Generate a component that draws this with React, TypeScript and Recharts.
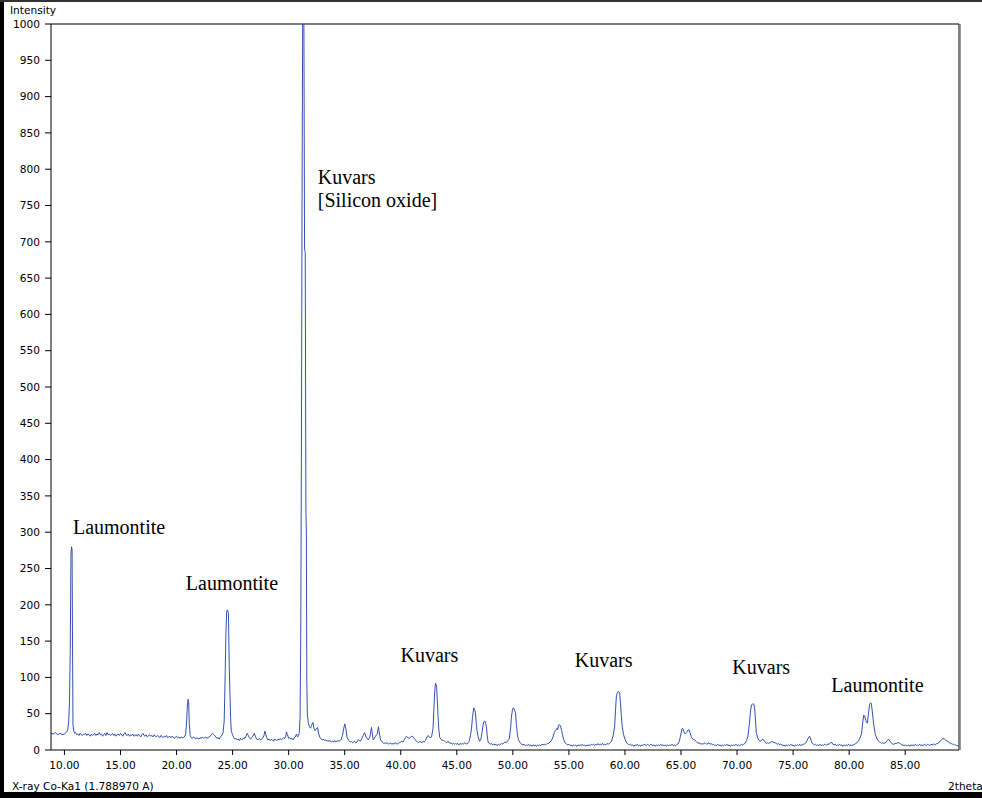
import { LineChart, Line, XAxis, YAxis, ReferenceLine, ReferenceDot } from 'recharts';

// 2theta / intensity pairs
const lowAngle = [
  [8.8, 23], [9.0, 22], [9.2, 24], [9.4, 21], [9.6, 23], [9.8, 21], [10.0, 22], [10.1, 24], [10.2, 25],
  [10.3, 28], [10.38, 40], [10.45, 65], [10.52, 140], [10.58, 270], [10.63, 280], [10.68, 276], [10.72, 150],
  [10.76, 35], [10.82, 27], [10.9, 23],
  [11.0, 24], [11.1, 21], [11.2, 22], [11.3, 20], [11.4, 23], [11.5, 21], [11.6, 20], [11.7, 22], [11.8, 21],
  [11.9, 23], [12.0, 20], [12.1, 22], [12.2, 21], [12.3, 19], [12.4, 22], [12.5, 20], [12.6, 21], [12.7, 23],
  [12.8, 20], [12.9, 22], [13.0, 21], [13.1, 24], [13.2, 21], [13.3, 22], [13.4, 19], [13.5, 21], [13.6, 23],
  [13.7, 20], [13.8, 24], [13.9, 21], [14.0, 22], [14.1, 20], [14.2, 21], [14.3, 23], [14.4, 20], [14.5, 22],
  [14.6, 19], [14.7, 21], [14.8, 22], [14.9, 20], [15.0, 23], [15.1, 21], [15.2, 19], [15.3, 22], [15.4, 24],
  [15.5, 21], [15.6, 20], [15.7, 22], [15.8, 19], [15.9, 21], [16.0, 20], [16.1, 22], [16.2, 19], [16.3, 20],
  [16.4, 21], [16.5, 19], [16.6, 22], [16.7, 20], [16.8, 18], [16.9, 21], [17.0, 23], [17.1, 20], [17.2, 19],
  [17.3, 21], [17.4, 18], [17.5, 20], [17.6, 21], [17.7, 19], [17.8, 20], [17.9, 18], [18.0, 21], [18.1, 19],
  [18.2, 18], [18.3, 20], [18.4, 19], [18.5, 17], [18.6, 20], [18.7, 19], [18.8, 17], [18.9, 19], [19.0, 18],
  [19.1, 20], [19.2, 17], [19.3, 18], [19.4, 19], [19.5, 17], [19.6, 19], [19.7, 18], [19.8, 16], [19.9, 18],
  [20.0, 19], [20.1, 17], [20.2, 18], [20.3, 16], [20.4, 18], [20.5, 17], [20.6, 17],
];

const laumontitePeaks = [
  [20.7, 18], [20.82, 22], [20.9, 40], [20.97, 62], [21.03, 70], [21.08, 65], [21.14, 35], [21.22, 20],
  [21.3, 17], [21.4, 16], [21.5, 18], [21.6, 17], [21.7, 15], [21.8, 17], [21.9, 16], [22.0, 15], [22.1, 17],
  [22.2, 16], [22.3, 18], [22.4, 16], [22.5, 17], [22.6, 18], [22.7, 16], [22.8, 17], [22.9, 18], [23.0, 19],
  [23.1, 21], [23.2, 23], [23.35, 21], [23.5, 18], [23.6, 16], [23.7, 17], [23.8, 15], [23.9, 18],
  [24.05, 20], [24.15, 24], [24.25, 40], [24.32, 90], [24.4, 158], [24.47, 191], [24.55, 193], [24.63, 188],
  [24.7, 115], [24.76, 80], [24.82, 45], [24.88, 26], [25.0, 21], [25.1, 17], [25.2, 15], [25.3, 16],
  [25.4, 14], [25.5, 15], [25.6, 13], [25.7, 16], [25.8, 14], [25.9, 15], [26.0, 17], [26.1, 16], [26.2, 19],
  [26.3, 23], [26.4, 20], [26.5, 17], [26.6, 15], [26.7, 17], [26.8, 19], [26.93, 23], [27.05, 18], [27.15, 15],
  [27.3, 14], [27.4, 16], [27.5, 14], [27.6, 15], [27.7, 17], [27.8, 20], [27.88, 26], [27.95, 22], [28.05, 17],
  [28.15, 14], [28.25, 15], [28.35, 13], [28.45, 15], [28.55, 14], [28.65, 12], [28.75, 15], [28.85, 14],
  [28.95, 13], [29.05, 15], [29.15, 14], [29.25, 16], [29.35, 14], [29.45, 15], [29.55, 17], [29.65, 16],
  [29.75, 19], [29.8, 25], [29.9, 21], [30.0, 16], [30.1, 17], [30.2, 15], [30.3, 16], [30.4, 14], [30.5, 17],
  [30.6, 18], [30.7, 22], [30.8, 18], [30.88, 20], [30.95, 24],
];

const quartzMain = [
  [31.02, 45], [31.08, 160], [31.14, 420], [31.2, 780], [31.25, 1000], [31.3, 1000], [31.36, 1000],
  [31.42, 690], [31.48, 685], [31.54, 330], [31.58, 300], [31.62, 95], [31.67, 48], [31.75, 38], [31.85, 32],
  [31.95, 30], [32.05, 34], [32.16, 38], [32.25, 30], [32.35, 27], [32.45, 29], [32.58, 31], [32.68, 22],
  [32.8, 17], [32.9, 15], [33.0, 14], [33.1, 15], [33.2, 13], [33.3, 14], [33.4, 12],
];

const midAngle = [
  [33.5, 13], [33.6, 12], [33.7, 13], [33.8, 11], [33.9, 12], [34.0, 11], [34.1, 13], [34.2, 11], [34.3, 12],
  [34.4, 13], [34.5, 12], [34.6, 13], [34.7, 15], [34.8, 20], [34.92, 30], [35.01, 36],
  [35.1, 30], [35.2, 18], [35.35, 13], [35.5, 11], [35.6, 12], [35.7, 10], [35.8, 11], [35.9, 12], [36.0, 10],
  [36.1, 11], [36.2, 14], [36.3, 13], [36.4, 12], [36.5, 15],
  [36.65, 20], [36.77, 24], [36.9, 18], [37.1, 14], [37.25, 18], [37.39, 31], [37.47, 22], [37.54, 14],
  [37.65, 16], [37.75, 19], [37.9, 22], [38.01, 32], [38.1, 22], [38.2, 14], [38.35, 11], [38.5, 9], [38.6, 10],
  [38.7, 9], [38.8, 10], [38.9, 8], [39.0, 9], [39.1, 10], [39.2, 8], [39.3, 9], [39.4, 8], [39.5, 10], [39.6, 9],
  [39.7, 8], [39.8, 10], [39.9, 10], [40.0, 11], [40.1, 12], [40.2, 11], [40.3, 14], [40.42, 17], [40.51, 19],
  [40.62, 17], [40.75, 16], [40.9, 18], [41.05, 19], [41.2, 16], [41.3, 14], [41.4, 12], [41.5, 11], [41.6, 10],
  [41.7, 12], [41.8, 11], [41.9, 10], [42.0, 12], [42.1, 11],
  [42.2, 13], [42.35, 18], [42.45, 20], [42.6, 17], [42.75, 18], [42.88, 30], [42.95, 55], [43.03, 80],
  [43.1, 92], [43.2, 88], [43.27, 65], [43.33, 46], [43.4, 28], [43.48, 17], [43.6, 15], [43.7, 13], [43.78, 14],
  [43.9, 12], [44.0, 11], [44.1, 10], [44.2, 12], [44.3, 11], [44.4, 9], [44.5, 10], [44.6, 8], [44.7, 9],
  [44.8, 8], [44.9, 9], [45.0, 8], [45.1, 9], [45.2, 7], [45.3, 9], [45.4, 8], [45.5, 9], [45.6, 8], [45.7, 10],
  [45.8, 9], [45.9, 8], [46.0, 10],
  [46.1, 12], [46.22, 20], [46.31, 29], [46.4, 45], [46.51, 58], [46.58, 56], [46.66, 52], [46.73, 38],
  [46.8, 27], [46.9, 18], [47.04, 12], [47.15, 15], [47.25, 24], [47.34, 34], [47.42, 39], [47.5, 40],
  [47.57, 37], [47.64, 32], [47.7, 22], [47.79, 11], [47.9, 9], [48.0, 8], [48.1, 9], [48.2, 7], [48.3, 8],
  [48.4, 7], [48.5, 8], [48.6, 6], [48.7, 8], [48.8, 7], [48.9, 8], [49.0, 9], [49.1, 8], [49.2, 10], [49.3, 11],
  [49.4, 10], [49.5, 12], [49.6, 13], [49.69, 16], [49.8, 30], [49.87, 45], [49.95, 54], [50.03, 58],
  [50.1, 57], [50.17, 54], [50.23, 52], [50.32, 35], [50.41, 21], [50.5, 14], [50.62, 11], [50.7, 9], [50.8, 8],
  [50.9, 7], [51.0, 8], [51.1, 6], [51.2, 7], [51.3, 6], [51.4, 8], [51.5, 6], [51.6, 7], [51.7, 5], [51.8, 7],
  [51.9, 6], [52.0, 7], [52.1, 5], [52.2, 7], [52.3, 6], [52.4, 7], [52.5, 6], [52.6, 8], [52.7, 7], [52.8, 8],
  [52.9, 7], [53.0, 8], [53.1, 9], [53.2, 9], [53.3, 11], [53.4, 12], [53.5, 15], [53.58, 18], [53.7, 24],
  [53.8, 27], [53.88, 28], [53.95, 30], [54.0, 28], [54.07, 34], [54.15, 35], [54.25, 33], [54.35, 27],
  [54.43, 21], [54.52, 15], [54.63, 11], [54.7, 9], [54.8, 8], [54.9, 7], [55.0, 8], [55.1, 6], [55.2, 7],
  [55.3, 5], [55.4, 7], [55.5, 6], [55.6, 7], [55.7, 5], [55.8, 7], [55.9, 6], [56.0, 7], [56.1, 6], [56.2, 8],
  [56.3, 6], [56.4, 7], [56.5, 5], [56.6, 7], [56.7, 6], [56.8, 7], [56.9, 6], [57.0, 8], [57.1, 7], [57.2, 8],
  [57.3, 6], [57.4, 8], [57.5, 7], [57.6, 9], [57.7, 7], [57.8, 8], [57.9, 7], [58.0, 9], [58.1, 7], [58.2, 8],
  [58.3, 7], [58.4, 9], [58.5, 8], [58.6, 9], [58.7, 10], [58.8, 12], [58.95, 20],
  [59.08, 32], [59.16, 55], [59.23, 73], [59.32, 79], [59.41, 81], [59.47, 80], [59.53, 78], [59.6, 65],
  [59.68, 47], [59.76, 32], [59.88, 21], [60.0, 15], [60.12, 11], [60.2, 9], [60.3, 8], [60.4, 7],
];

const highAngle = [
  [60.5, 8], [60.6, 6], [60.7, 7], [60.8, 5], [60.9, 7], [61.0, 6], [61.1, 8], [61.2, 6], [61.3, 7], [61.4, 5],
  [61.5, 7], [61.6, 6], [61.7, 8], [61.8, 7], [61.9, 6], [62.0, 8], [62.1, 7], [62.2, 6], [62.3, 8], [62.4, 7],
  [62.5, 6], [62.6, 7], [62.7, 5], [62.8, 7], [62.9, 6], [63.0, 7], [63.1, 6], [63.2, 8], [63.3, 6], [63.4, 7],
  [63.5, 6], [63.6, 7], [63.7, 5], [63.8, 7], [63.9, 6], [64.0, 7], [64.1, 6], [64.2, 8], [64.3, 6], [64.4, 7],
  [64.5, 6], [64.6, 7], [64.7, 8], [64.85, 12], [64.95, 19], [65.05, 26], [65.12, 30], [65.2, 28], [65.3, 24],
  [65.37, 22], [65.5, 24], [65.6, 27], [65.71, 28], [65.8, 24], [65.92, 18], [66.05, 15], [66.22, 14],
  [66.35, 12], [66.52, 9], [66.6, 10], [66.7, 9], [66.8, 8], [66.9, 9], [67.0, 8], [67.1, 10], [67.2, 9],
  [67.3, 8], [67.4, 9], [67.5, 10], [67.6, 8], [67.7, 9], [67.8, 7], [67.9, 8], [68.0, 6], [68.1, 7], [68.2, 6],
  [68.3, 8], [68.4, 6], [68.5, 7], [68.6, 5], [68.7, 7], [68.8, 6], [68.9, 7], [69.0, 6], [69.1, 8], [69.2, 6],
  [69.3, 7], [69.4, 5], [69.5, 7], [69.6, 6], [69.7, 7], [69.8, 6], [69.9, 8], [70.0, 6], [70.1, 7], [70.2, 6],
  [70.3, 7], [70.4, 8], [70.5, 7], [70.6, 8], [70.7, 9], [70.85, 13], [70.97, 19], [71.1, 36], [71.21, 55],
  [71.3, 62], [71.42, 64], [71.5, 63], [71.57, 58], [71.65, 40], [71.72, 24], [71.83, 17], [71.96, 13],
  [72.1, 12], [72.2, 14], [72.31, 15], [72.45, 12], [72.6, 9], [72.7, 10], [72.8, 9], [72.9, 10], [73.0, 10],
  [73.1, 12], [73.2, 11], [73.3, 10], [73.4, 10], [73.5, 9], [73.6, 8], [73.7, 9], [73.8, 7], [73.9, 8],
  [74.0, 7], [74.1, 6], [74.2, 7], [74.3, 5], [74.4, 7], [74.5, 6], [74.6, 7], [74.7, 6], [74.8, 8], [74.9, 6],
  [75.0, 7], [75.1, 5], [75.2, 7], [75.3, 6], [75.4, 7], [75.5, 6], [75.6, 8], [75.7, 6], [75.8, 7], [75.9, 8],
  [76.0, 8], [76.18, 11], [76.3, 15], [76.47, 19], [76.57, 15], [76.68, 10], [76.8, 8], [76.9, 7], [77.0, 8],
  [77.1, 6], [77.2, 7], [77.3, 6], [77.4, 8], [77.5, 6], [77.6, 7], [77.7, 6], [77.8, 8], [77.9, 7], [78.0, 7],
  [78.1, 8], [78.2, 8], [78.3, 9], [78.41, 11], [78.55, 8], [78.65, 7], [78.75, 8], [78.85, 6], [78.95, 7],
  [79.05, 6], [79.15, 8], [79.25, 6], [79.35, 7], [79.45, 5], [79.55, 7], [79.65, 6], [79.75, 7], [79.85, 6],
  [79.95, 8], [80.05, 6], [80.15, 7], [80.25, 6], [80.35, 7], [80.5, 8], [80.6, 9], [80.7, 10], [80.8, 12],
  [80.9, 14], [81.0, 18], [81.1, 22], [81.2, 36], [81.3, 48], [81.38, 47], [81.48, 41], [81.56, 38], [81.63, 37],
  [81.72, 50], [81.83, 63], [81.92, 65], [81.98, 64], [82.05, 55], [82.13, 44], [82.22, 32], [82.34, 21],
  [82.5, 15], [82.62, 12], [82.73, 11], [82.82, 10], [82.9, 9], [83.0, 10], [83.1, 9], [83.2, 10], [83.3, 11],
  [83.42, 13], [83.52, 15], [83.65, 12], [83.8, 9], [83.9, 8], [84.0, 8], [84.1, 9], [84.2, 9], [84.35, 10],
  [84.47, 10], [84.6, 8], [84.7, 7], [84.8, 7], [84.9, 6], [85.0, 7], [85.1, 6], [85.2, 6], [85.3, 7], [85.4, 5],
  [85.5, 7], [85.6, 6], [85.7, 7], [85.8, 6], [85.9, 8], [86.0, 6], [86.1, 7], [86.2, 6], [86.3, 8], [86.4, 6],
  [86.5, 7], [86.6, 6], [86.7, 8], [86.8, 7], [86.9, 6], [87.0, 8], [87.1, 7], [87.2, 6], [87.3, 8], [87.4, 7],
  [87.5, 8], [87.6, 8], [87.7, 7], [87.8, 9], [87.9, 9], [88.0, 10], [88.1, 12], [88.2, 13], [88.36, 16],
  [88.5, 15], [88.65, 13], [88.8, 12], [88.95, 10], [89.1, 9], [89.2, 8], [89.3, 8], [89.4, 7], [89.5, 7],
  [89.6, 6], [89.7, 6], [89.8, 5],
];

const xTicks = [10, 15, 20, 25, 30, 35, 40, 45, 50, 55, 60, 65, 70, 75, 80, 85];
const yTicks = [0, 50, 100, 150, 200, 250, 300, 350, 400, 450, 500, 550, 600, 650, 700, 750, 800, 850, 900, 950, 1000];

// phase labels, anchored at [2theta, intensity] of their baseline start
const phaseLabels = [
  { t: 10.76, i: 297, lines: ['Laumontite'] },
  { t: 20.83, i: 221, lines: ['Laumontite'] },
  { t: 32.6, i: 780, lines: ['Kuvars', '[Silicon oxide]'] },
  { t: 39.98, i: 121, lines: ['Kuvars'] },
  { t: 55.52, i: 115, lines: ['Kuvars'] },
  { t: 69.58, i: 104, lines: ['Kuvars'] },
  { t: 78.41, i: 80, lines: ['Laumontite'] },
];

const X_MIN = 8.8;
const X_MAX = 89.8;

const pattern = [...lowAngle, ...laumontitePeaks, ...quartzMain, ...midAngle, ...highAngle].map(([t, i]) => ({ t, i }));

const tickFont = { fontFamily: 'DejaVu Sans', fontSize: 10.6, fill: '#000' };

function PhaseText(props: any) {
  const { viewBox, lines } = props;
  if (!viewBox) return null;
  const x = viewBox.x + (viewBox.width || 0) / 2;
  const y = viewBox.y + (viewBox.height || 0) / 2;
  return (
    <text x={x} y={y} fontFamily="Liberation Serif" fontSize={20} fill="#000">
      {lines.map((l: string, k: number) => (
        <tspan key={k} x={x} dy={k === 0 ? 0 : 23}>{l}</tspan>
      ))}
    </text>
  );
}

export default function App() {
  return (
    <div style={{ position: 'absolute', left: 0, top: 0, width: 982, height: 798, background: '#fff', overflow: 'hidden' }}>
      <LineChart width={982} height={798} data={pattern} margin={{ top: 24, right: 23, bottom: 0, left: 0 }}>
        <XAxis
          type="number"
          dataKey="t"
          domain={[X_MIN, X_MAX]}
          allowDataOverflow
          ticks={xTicks}
          interval={0}
          tickFormatter={(v: number) => v.toFixed(2)}
          height={48}
          tickSize={5}
          tickMargin={6}
          tick={tickFont}
          stroke="#000"
        />
        <YAxis
          type="number"
          dataKey="i"
          domain={[0, 1000]}
          allowDataOverflow
          ticks={yTicks}
          interval={0}
          width={51}
          tickSize={6}
          tickMargin={5}
          tick={tickFont}
          stroke="#000"
        />
        <ReferenceLine y={1000} stroke="#000" ifOverflow="extendDomain" />
        <ReferenceLine x={X_MAX} stroke="#000" ifOverflow="extendDomain" />
        <Line
          type="linear"
          dataKey="i"
          stroke="#3451b2"
          strokeWidth={1}
          dot={false}
          isAnimationActive={false}
        />
        {phaseLabels.map((p, k) => (
          <ReferenceDot key={k} x={p.t} y={p.i} r={0} fill="none" stroke="none" label={<PhaseText lines={p.lines} />} />
        ))}
      </LineChart>
      <div style={{ position: 'absolute', left: 10, top: 4, font: '10.6px "DejaVu Sans"' }}>Intensity</div>
      <div style={{ position: 'absolute', left: 12, top: 780, font: '10.6px "DejaVu Sans"' }}>X-ray Co-Ka1 (1.788970 A)</div>
      <div style={{ position: 'absolute', left: 948, top: 780, font: '10.6px "DejaVu Sans"', whiteSpace: 'nowrap' }}>2theta</div>
      <div style={{ position: 'absolute', left: 960, top: 24, width: 1, height: 726, background: '#999' }} />
      <div style={{ position: 'absolute', left: 0, top: 0, width: 4, height: 798, background: '#000' }} />
      <div style={{ position: 'absolute', left: 0, top: 0, width: 982, height: 2, background: '#333' }} />
      <div style={{ position: 'absolute', left: 0, top: 792, width: 982, height: 6, background: '#000' }} />
    </div>
  );
}
